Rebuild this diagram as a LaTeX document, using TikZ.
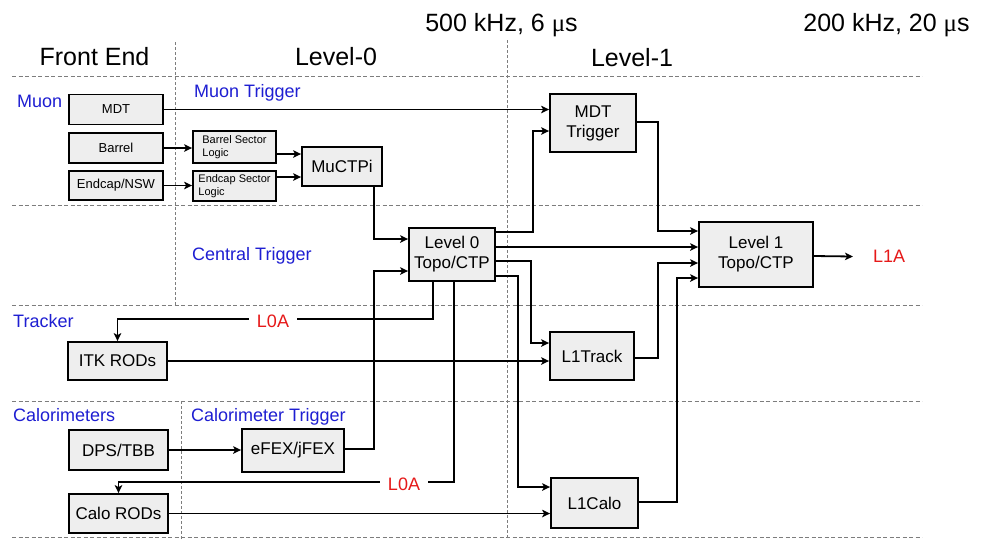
\documentclass[tikz,border=0pt]{standalone}
\usepackage{fontspec}
\setmainfont{Liberation Sans}
\newfontfamily\mufont{Liberation Serif}
\usetikzlibrary{arrows.meta,calc}
\definecolor{lblue}{RGB}{30,30,210}
\definecolor{lred}{RGB}{230,25,25}
\definecolor{boxfill}{RGB}{238,238,238}
\definecolor{dashgray}{RGB}{125,125,125}
\begin{document}
\begin{tikzpicture}[x=1pt,y=-1pt,
  box/.style={draw, line width=1.8pt, fill=boxfill, inner sep=0pt, align=center,
    font=\fontsize{17}{20}\selectfont},
  smallbox/.style={box, font=\fontsize{13}{15}\selectfont},
  tinybox/.style={box, align=left, font=\fontsize{11}{12.5}\selectfont},
  arr/.style={line width=1.8pt, -{Stealth[length=8pt,width=7.5pt,inset=2pt]}},
  sep/.style={dashgray, line width=1pt, dash pattern=on 4pt off 2.5pt},
  vsep/.style={dashgray, line width=1pt, dash pattern=on 3pt off 2pt},
  head/.style={font=\fontsize{25}{30}\selectfont, inner sep=0pt, anchor=base},
  grp/.style={text=lblue, font=\fontsize{18}{22}\selectfont, inner sep=0pt, anchor=base west},
  accept/.style={text=lred, font=\fontsize{18}{22}\selectfont, fill=white, inner xsep=8pt, inner ysep=1pt}
]
\fill[white] (0,0) rectangle (981,539);
\useasboundingbox (0,0) rectangle (981,539);

% separators
\foreach \yy in {76,205,305,401,537} \draw[sep] (12,\yy) -- (922,\yy);
\draw[vsep] (175,42) -- (175,305);
\draw[vsep] (181,401) -- (181,539);
\draw[vsep] (507,40) -- (507,539);

% headings
\node[head] (hfe) at (94.5,65) {Front End};
\node[head] (hl0) at (336,65) {Level-0};
\node[head] (hl1) at (632,66) {Level-1};
\node[head] (hr0) at (501.5,31) {500 kHz, 6 {\mufont μ}s};
\node[head] (hr1) at (886.5,31) {200 kHz, 20 {\mufont μ}s};

% group labels
\node[grp] (gmuon) at (17,107) {Muon};
\node[grp] (gmt) at (194,97) {Muon Trigger};
\node[grp] (gct) at (192,260) {Central Trigger};
\node[grp] (gtr) at (13,327) {Tracker};
\node[grp] (gcal) at (13,421) {Calorimeters};
\node[grp] (gcalt) at (191,421) {Calorimeter Trigger};

% boxes
\node[smallbox, minimum width=94pt, minimum height=30pt] (mdt) at (116,109.5) {MDT};
\node[smallbox, minimum width=94pt, minimum height=30pt] (barrel) at (116,148) {Barrel};
\node[smallbox, minimum width=94pt, minimum height=29pt] (endcap) at (116,185.5) {Endcap/NSW};
\node[tinybox, minimum width=83pt, minimum height=32pt] (bsl) at (234.5,147) {Barrel Sector\\Logic};
\node[tinybox, minimum width=83pt, minimum height=30pt] (esl) at (234.5,186) {Endcap Sector\\Logic};
\node[box, minimum width=80pt, minimum height=39pt] (muctpi) at (342,166.5) {MuCTPi};
\node[box, minimum width=86pt, minimum height=53pt] (l0) at (452,254.5) {Level 0\\Topo/CTP};
\node[box, minimum width=86pt, minimum height=58pt] (mdttrig) at (593,123) {MDT\\Trigger};
\node[box, minimum width=114pt, minimum height=65pt] (l1) at (756,254.5) {Level 1\\Topo/CTP};
\node[box, minimum width=84pt, minimum height=48pt] (l1track) at (592,356) {L1Track};
\node[box, minimum width=87pt, minimum height=50pt] (l1calo) at (594.5,503) {L1Calo};
\node[box, minimum width=99pt, minimum height=38pt] (itk) at (117.5,361) {ITK RODs};
\node[box, minimum width=99pt, minimum height=40pt] (dps) at (118.5,450) {DPS/TBB};
\node[box, minimum width=102pt, minimum height=43pt] (efex) at (293,450.5) {eFEX/jFEX};
\node[box, minimum width=99pt, minimum height=39pt] (calo) at (118.5,513.5) {Calo RODs};
\node[text=lred, font=\fontsize{18}{22}\selectfont, inner sep=0pt, anchor=west] (l1a) at (873,256.5) {L1A};

% connectors
\draw[arr] (mdt.east) -- (mdt.east -| mdttrig.west);
\draw[arr] (barrel.east) -- (barrel.east -| bsl.west);
\draw[arr] (endcap.east) -- (endcap.east -| esl.west);
\draw[arr] (bsl.east |- 0,154) -- (muctpi.west |- 0,154);
\draw[arr] (esl.east |- 0,177) -- (muctpi.west |- 0,177);
\draw[arr] (muctpi.south -| 374,0) |- (l0.west |- 0,239);
\draw[arr] (efex.east |- 0,449) -| (374,271) -- (l0.west |- 0,271);
\draw[arr] (dps.east) -- (dps.east -| efex.west);
\draw[arr] (itk.east) -- (itk.east -| l1track.west);
\draw[arr] (calo.east) -- (calo.east -| l1calo.west);
\draw[arr] (l0.south -| 433,0) |- (itk.north |- 0,319) -- (itk.north);
\node[accept] (l0a1) at (273,321) {L0A};
\draw[arr] (l0.south -| 454,0) |- (calo.north |- 0,482) -- (calo.north);
\node[accept] (l0a2) at (404,484) {L0A};
\draw[arr] (l0.east |- 0,232) -| (533,131) -- (mdttrig.west |- 0,131);
\draw[arr] (l0.east |- 0,247) -- (l1.west |- 0,247);
\draw[arr] (l0.east |- 0,261) -| (531,343) -- (l1track.west |- 0,343);
\draw[arr] (l0.east |- 0,276) -| (518,487) -- (l1calo.west |- 0,487);
\draw[arr] (mdttrig.east |- 0,122) -| (658,231) -- (l1.west |- 0,231);
\draw[arr] (l1track.east |- 0,358) -| (658,263) -- (l1.west |- 0,263);
\draw[arr] (l1calo.east |- 0,502) -| (677,278) -- (l1.west |- 0,278);
\draw[arr] (l1.east |- 0,256) -- ([xshift=-20pt]l1a.west);
\end{tikzpicture}
\end{document}
